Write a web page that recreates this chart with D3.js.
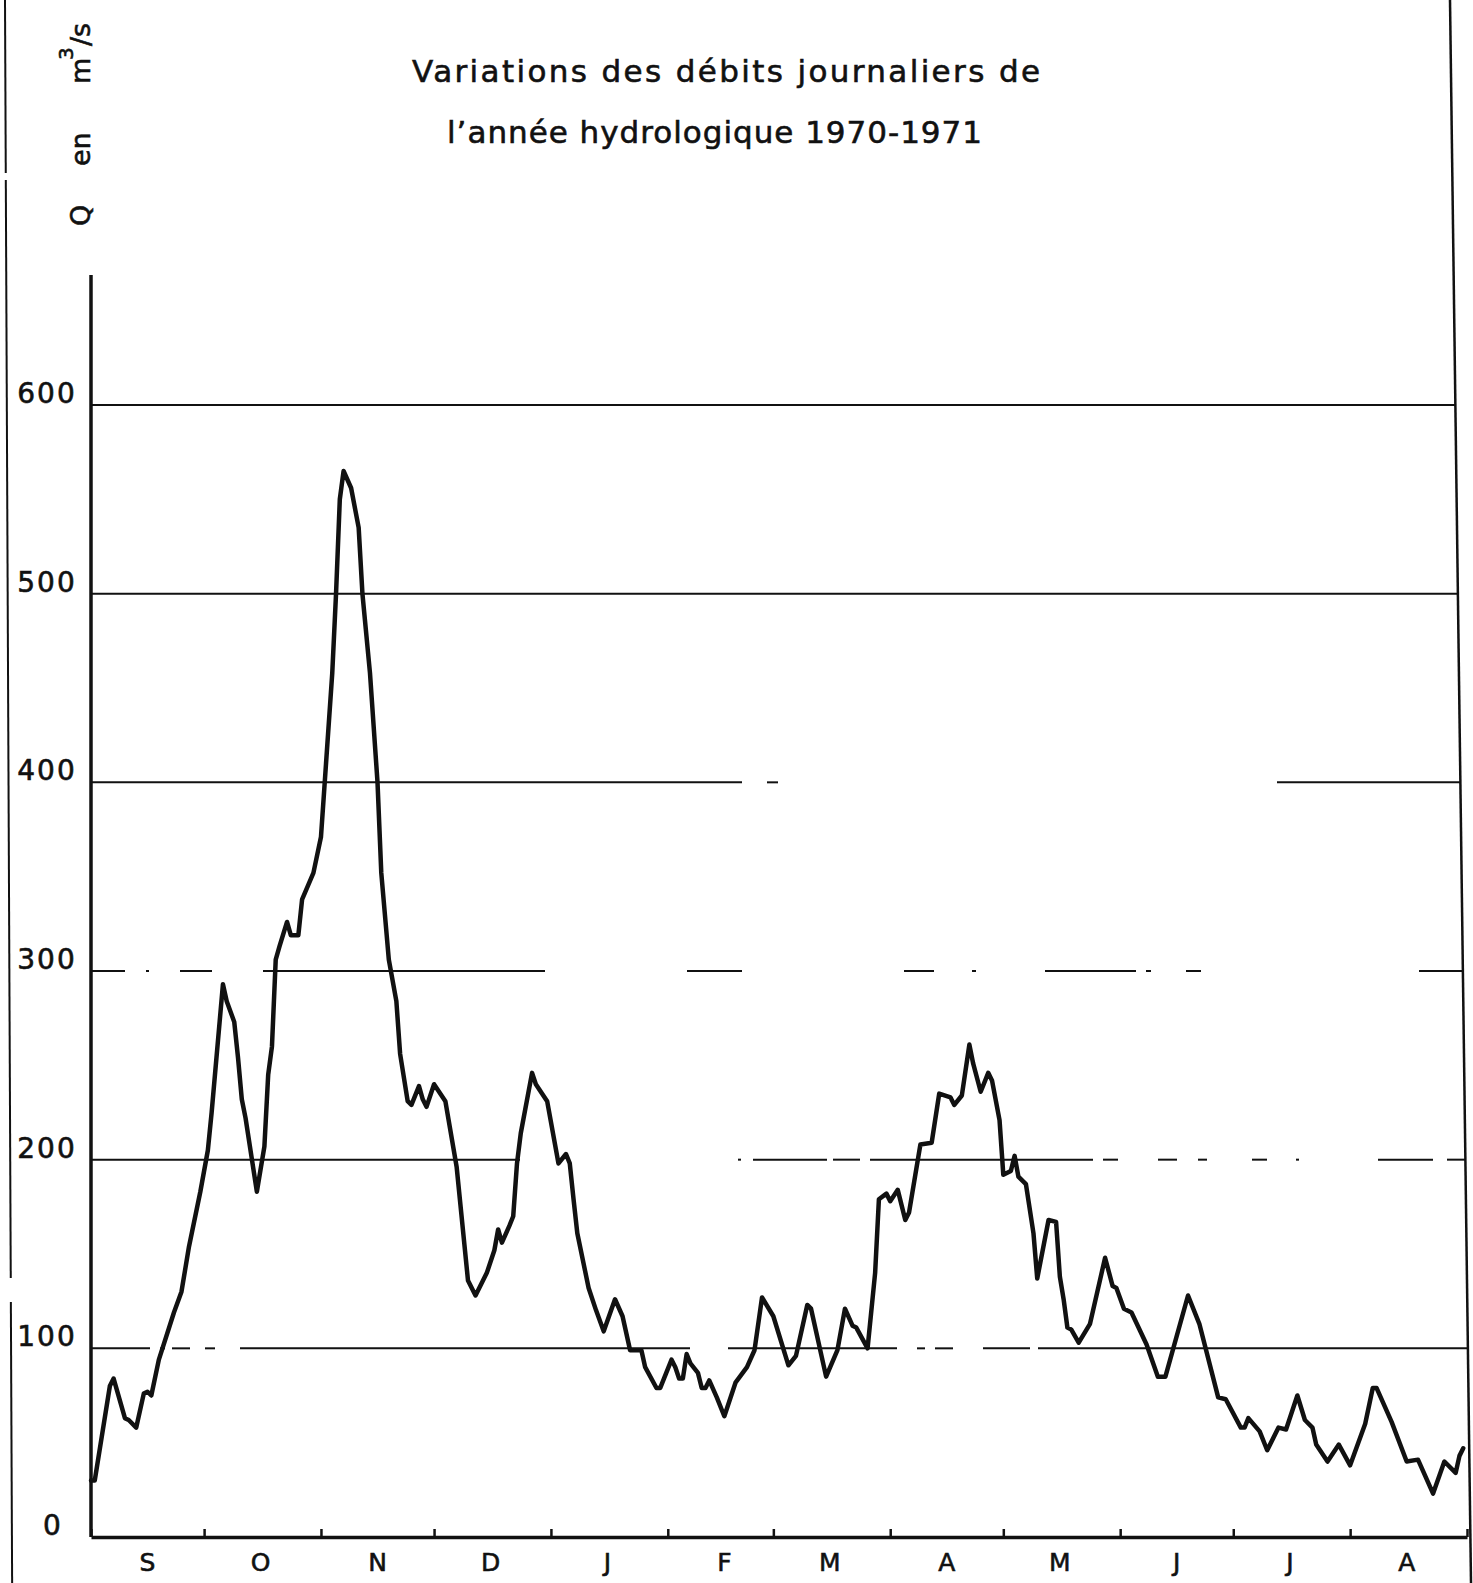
<!DOCTYPE html>
<html>
<head>
<meta charset="utf-8">
<script src="https://cdn.jsdelivr.net/npm/d3@7"></script>
<style>
    body { margin: 0; background: #fff; }
    svg { display: block; }
    text { font-family: "DejaVu Sans", sans-serif; fill: #111; stroke: #111; stroke-width: 0.6; }
</style>
</head>
<body>
<svg id="chart" width="1473" height="1583"></svg>
<script>
// data: days counted from 1 Sept 1970, daily flow in m3/s
const flowDays = [
    0, 1, 5, 6, 9, 10, 12, 14, 15, 16, 18, 22, 24, 26, 29, 31, 32, 35, 36, 38,
    39, 40, 41, 44, 46, 47, 48, 49, 50, 52, 53, 55, 56, 59, 61, 62, 64, 65, 66, 67,
    69, 71, 72, 74, 76, 77, 79, 81, 82, 84, 85, 87, 88, 89, 91, 94, 97, 100, 102, 105,
    107, 108, 109, 111, 112, 113, 114, 117, 118, 121, 124, 126, 127, 128, 129, 132, 134, 136, 139, 141,
    143, 146, 147, 150, 151, 154, 155, 156, 157, 158, 159, 161, 162, 163, 164, 166, 168, 171, 174, 176,
    178, 181, 185, 187, 190, 191, 195, 198, 200, 202, 203, 206, 208, 209, 211, 212, 214, 216, 217, 220,
    223, 225, 228, 229, 231, 233, 234, 236, 238, 239, 241, 242, 244, 245, 246, 248, 250, 251, 254, 256,
    257, 258, 259, 260, 262, 265, 269, 271, 272, 274, 276, 280, 283, 285, 291, 294, 299, 301, 305, 306,
    307, 310, 312, 315, 317, 320, 322, 324, 325, 328, 331, 334, 338, 340, 341, 345, 349, 352, 356, 359,
    362, 363, 364
];
const flowValues = [
    30, 30, 80, 84, 63, 62, 58, 76, 77, 75, 94, 119, 130, 154, 183, 205, 225, 293, 284, 273,
    254, 232, 222, 183, 207, 245, 260, 306, 313, 326, 319, 319, 338, 352, 371, 400, 458, 500, 550, 565,
    556, 535, 500, 458, 400, 352, 306, 284, 256, 231, 229, 239, 232, 228, 240, 231, 196, 136, 128, 140,
    152, 163, 156, 165, 170, 198, 214, 246, 240, 231, 198, 203, 198, 179, 161, 132, 120, 109, 126, 117,
    99, 99, 90, 79, 79, 94, 90, 84, 84, 97, 92, 87, 79, 79, 83, 74, 64, 82, 90, 99,
    127, 117, 91, 96, 123, 121, 85, 99, 121, 112, 111, 100, 140, 179, 182, 178, 184, 168, 172, 208,
    209, 235, 233, 229, 234, 261, 251, 236, 246, 242, 221, 192, 194, 202, 191, 187, 161, 137, 168, 167,
    138, 126, 111, 110, 103, 113, 148, 133, 132, 121, 119, 102, 85, 85, 128, 113, 74, 73, 58, 58,
    63, 56, 46, 58, 57, 75, 62, 58, 49, 40, 49, 38, 60, 79, 79, 61, 40, 41, 23, 40,
    34, 43, 47
];
const monthLabels = ["S", "O", "N", "D", "J", "F", "M", "A", "M", "J", "J", "A"];
const yTicks = [0, 100, 200, 300, 400, 500, 600];
const titleLines = ["Variations des débits journaliers de", "l’année hydrologique 1970-1971"];

// visible bits of the worn grid lines (x in px)
const gridPieces = {
    600: [[91, 9999]],
    500: [[91, 9999]],
    400: [[91, 742], [767, 778], [1277, 9999]],
    300: [[91, 125], [146, 149], [180, 212], [263, 545], [687, 742], [904, 934], [972, 976],
          [1045, 1136], [1146, 1151], [1186, 1201], [1419, 9999]],
    200: [[91, 520], [738, 741], [753, 827], [833, 860], [870, 1093], [1103, 1118], [1158, 1177],
          [1198, 1207], [1252, 1267], [1296, 1299], [1378, 1433], [1447, 9999]],
    100: [[91, 150], [160, 165], [172, 190], [205, 215], [240, 690], [728, 897], [917, 925],
          [935, 953], [983, 1030], [1038, 9999]]
};

const svg = d3.select("#chart");
const start = new Date(Date.UTC(1970, 8, 1));
const end = new Date(Date.UTC(1971, 8, 1));

const x = d3.scaleUtc().domain([start, end]).range([91, 1467]);
const y = d3.scaleLinear().domain([0, 600]).range([1537, 405]);
const borderX = (py) => 1450 + py * 0.0133;

svg.append("rect").attr("width", 1473).attr("height", 1583).attr("fill", "#fff");

// page borders
svg.append("line")
    .attr("x1", 1450).attr("y1", 0).attr("x2", 1471).attr("y2", 1583)
    .attr("stroke", "#111").attr("stroke-width", 2.5);
[[0, 173], [180, 1278], [1302, 1583]].forEach(([a, b]) => {
    svg.append("line")
        .attr("x1", 5 + a * 0.0045).attr("y1", a)
        .attr("x2", 5 + b * 0.0045).attr("y2", b)
        .attr("stroke", "#111").attr("stroke-width", 2);
});

// grid
yTicks.filter((v) => v > 0).forEach((v) => {
    const py = y(v);
    gridPieces[v].forEach(([a, b]) => {
        svg.append("line")
            .attr("x1", Math.max(a, 91)).attr("x2", Math.min(b, borderX(py)))
            .attr("y1", py).attr("y2", py)
            .attr("stroke", "#111").attr("stroke-width", 2);
    });
});

// y axis line and labels
svg.append("line")
    .attr("x1", 91).attr("y1", 275).attr("x2", 91).attr("y2", y(0))
    .attr("stroke", "#111").attr("stroke-width", 3.5);
svg.selectAll(".ylab")
    .data(yTicks)
    .enter()
    .append("text")
    .attr("class", "ylab")
    .attr("x", (d) => (d === 0 ? 53 : 47))
    .attr("y", (d) => y(d) - 2)
    .attr("text-anchor", "middle")
    .attr("font-size", 28)
    .attr("letter-spacing", 2)
    .text((d) => d);

// x axis: month ticks pointing up
const xAxis = d3.axisBottom(x)
    .ticks(d3.utcMonth.every(1))
    .tickSize(-8)
    .tickSizeOuter(0)
    .tickFormat("");
const gx = svg.append("g")
    .attr("transform", `translate(0, ${y(0)})`)
    .call(xAxis);
gx.select(".domain").attr("stroke", "#111").attr("stroke-width", 3.5);
gx.selectAll(".tick line").attr("stroke", "#111").attr("stroke-width", 2.5);

const months = d3.utcMonth.range(start, end);
svg.selectAll(".mlab")
    .data(months)
    .enter()
    .append("text")
    .attr("class", "mlab")
    .attr("x", (d) => x(d3.utcDay.offset(d, 15)))
    .attr("y", 1571)
    .attr("text-anchor", "middle")
    .attr("font-size", 25)
    .text((d, i) => monthLabels[i]);

// flow curve
const points = flowDays.map((d, i) => [x(d3.utcDay.offset(start, d)), y(flowValues[i])]);
svg.append("path")
    .attr("d", d3.line()(points))
    .attr("fill", "none")
    .attr("stroke", "#111")
    .attr("stroke-width", 4.5)
    .attr("stroke-linejoin", "round")
    .attr("stroke-linecap", "round");

// title
svg.append("text")
    .attr("x", 412).attr("y", 82)
    .attr("font-size", 31)
    .attr("textLength", 628).attr("lengthAdjust", "spacing")
    .text(titleLines[0]);
svg.append("text")
    .attr("x", 447).attr("y", 143)
    .attr("font-size", 31)
    .attr("textLength", 535).attr("lengthAdjust", "spacing")
    .text(titleLines[1]);

// rotated unit label
const ylab = svg.append("g").attr("transform", "translate(90, 226) rotate(-90)");
ylab.append("text").attr("x", 0).attr("y", 0).attr("font-size", 27).text("Q");
ylab.append("text").attr("x", 60).attr("y", 0).attr("font-size", 27).text("en");
ylab.append("text").attr("x", 142).attr("y", 0).attr("font-size", 27).text("m");
ylab.append("text").attr("x", 166).attr("y", -17).attr("font-size", 20).text("3");
ylab.append("text").attr("x", 180).attr("y", 0).attr("font-size", 27).text("/s");
</script>
</body>
</html>
